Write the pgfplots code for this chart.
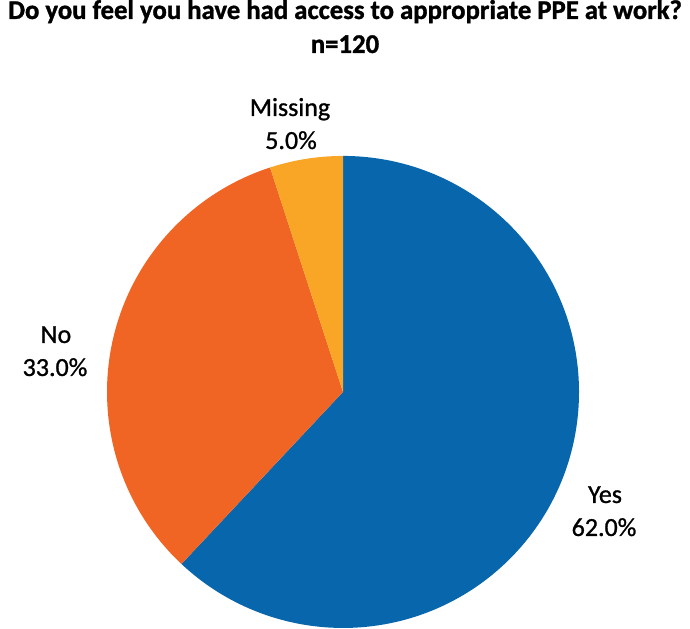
\documentclass[border=0pt]{standalone}
\usepackage{pgfplots}
\pgfplotsset{compat=1.18}
\usepackage{fontspec}
\setmainfont{Carlito}
\newfontfamily\titlefont[FakeStretch=0.99, FakeBold=1.2]{Carlito}
\newfontfamily\labelfont[FakeBold=1.0]{Carlito}
\definecolor{yescol}{HTML}{0867AC}
\definecolor{nocol}{HTML}{F06424}
\definecolor{misscol}{HTML}{F9A626}

% shares in percent
\def\vyes{62}
\def\vno{33}
\def\vmiss{5}

\begin{document}
\begin{tikzpicture}
\pgfmathsetmacro{\aA}{90}
\pgfmathsetmacro{\aB}{\aA-3.6*\vyes}
\pgfmathsetmacro{\aC}{\aB-3.6*\vno}
\pgfmathsetmacro{\aD}{\aC-3.6*\vmiss}
\begin{axis}[
    x=1pt, y=1pt,
    xmin=0, xmax=690, ymin=0, ymax=628,
    hide axis, clip=false,
    scale only axis,
]
\addplot[draw=none] coordinates {(0,0) (690,628)};
\fill[yescol]  (axis cs:343,237) -- ++(\aA:236pt) arc[start angle=\aA, end angle=\aB, radius=236pt] -- cycle;
\fill[nocol]   (axis cs:343,237) -- ++(\aB:236pt) arc[start angle=\aB, end angle=\aC, radius=236pt] -- cycle;
\fill[misscol] (axis cs:343,237) -- ++(\aC:236pt) arc[start angle=\aC, end angle=\aD, radius=236pt] -- cycle;
\node[anchor=base, inner sep=0pt, font=\titlefont\bfseries\fontsize{27}{30}\selectfont] at (axis cs:345,610) {Do you feel you have had access to appropriate PPE at work?};
\node[anchor=base, inner sep=0pt, font=\titlefont\bfseries\fontsize{27}{30}\selectfont] at (axis cs:345,576) {n=120};
\node[anchor=base, font=\labelfont\fontsize{26}{30}\selectfont] at (axis cs:290,513) {Missing};
\node[anchor=base, font=\labelfont\fontsize{26}{30}\selectfont] at (axis cs:291,480) {5.0\%};
\node[anchor=base, font=\labelfont\fontsize{26}{30}\selectfont] at (axis cs:56,286) {No};
\node[anchor=base, font=\labelfont\fontsize{26}{30}\selectfont] at (axis cs:55,253) {33.0\%};
\node[anchor=base, font=\labelfont\fontsize{26}{30}\selectfont] at (axis cs:605,126) {Yes};
\node[anchor=base, font=\labelfont\fontsize{26}{30}\selectfont] at (axis cs:604,93) {62.0\%};
\end{axis}
\end{tikzpicture}
\end{document}
